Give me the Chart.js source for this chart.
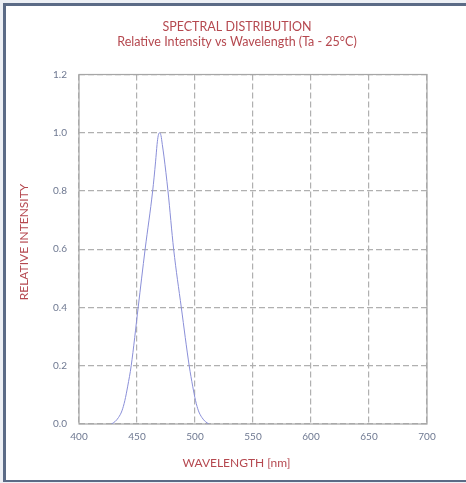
<!DOCTYPE html>
<html>
<head>
<meta charset="utf-8">
<script src="https://cdn.jsdelivr.net/npm/chart.js@4.4.0/dist/chart.umd.min.js"></script>
<style>
  html, body { margin:0; padding:0; background:#edf0f5; width:466px; height:483px; overflow:hidden; }
  #frame { position:absolute; left:3px; top:3px; width:480px; height:474px;
           border-left:3px solid #5b6b86; border-top:3px solid #5b6b86; border-bottom:2px solid #5b6b86;
           background:#ffffff; }
  #wrap { position:absolute; left:6px; top:6px; width:460px; height:474px; }
</style>
</head>
<body>
<div id="frame"></div>
<div id="wrap"><canvas id="c" width="460" height="474"></canvas></div>
<script>
const titleLines = ['SPECTRAL DISTRIBUTION', 'Relative Intensity vs Wavelength (Ta - 25°C)'];
const xTitle = 'WAVELENGTH [nm]';
const yTitle = 'RELATIVE INTENSITY';
const wavelengths = [428, 431, 434, 437, 439.5, 442, 445, 451, 457, 463.5, 466, 467.3, 468.3, 469.5, 470.7, 471.8, 473.2, 476.7, 481.6, 488.2, 495, 498, 500.5, 503, 506, 509, 512];
const intensity   = [0, 0.008, 0.022, 0.045, 0.08, 0.13, 0.2, 0.4, 0.6, 0.8, 0.9, 0.96, 0.99, 1.0, 0.99, 0.96, 0.92, 0.8, 0.6, 0.4, 0.2, 0.13, 0.08, 0.045, 0.022, 0.008, 0];
const xTicks = [400, 450, 500, 550, 600, 650, 700];
const yTicks = [0.0, 0.2, 0.4, 0.6, 0.8, 1.0, 1.2];

const red = '#b5484f';
const tickColor = '#6e7891';
const gridColor = '#b0b0b0';

const frameRect = {
  id: 'frameRect',
  afterLayout(chart) {
    const t = chart.titleBlock;
    if (t) { t.left += 17; t.right += 17; }
  },
  beforeDatasetsDraw(chart) {
    const {ctx, chartArea:a} = chart;
    ctx.save();
    ctx.setLineDash([]);
    ctx.strokeStyle = '#a6a6a6';
    ctx.lineWidth = 1.2;
    ctx.strokeRect(a.left, a.top, a.right - a.left, a.bottom - a.top);
    ctx.restore();
  },
  afterDraw(chart) {
    const {ctx} = chart;
    ctx.save();
    ctx.fillStyle = red;
    ctx.font = '12px Lato';
    ctx.textAlign = 'center';
    ctx.textBaseline = 'middle';
    ctx.fillText(xTitle, 230.5, 457);
    ctx.translate(18, 236);
    ctx.rotate(-Math.PI / 2);
    ctx.fillText(yTitle, 0, 0);
    ctx.restore();
  }
};

new Chart(document.getElementById('c'), {
  type: 'line',
  data: {
    datasets: [{
      data: wavelengths.map((w, i) => ({x: w, y: intensity[i]})),
      borderColor: '#8a8fd8',
      borderWidth: 1,
      pointRadius: 0,
      fill: false,
      cubicInterpolationMode: 'monotone'
    }]
  },
  options: {
    responsive: false,
    animation: false,
    devicePixelRatio: 1,
    layout: { padding: { left: 7, right: 39, top: 0, bottom: 6 } },
    plugins: {
      legend: { display: false },
      tooltip: { enabled: false },
      title: {
        display: true,
        text: titleLines,
        color: red,
        font: { family: 'Lato', size: 12.5, weight: 'normal', lineHeight: 1.22 },
        padding: { top: 13, bottom: 25 }
      }
    },
    scales: {
      x: {
        type: 'linear',
        min: 400, max: 700,
        afterBuildTicks: s => { s.ticks = xTicks.map(v => ({value: v})); },
        afterFit: s => { s.height = 50; },
        ticks: { color: tickColor, font: { family: 'Lato', size: 10 }, padding: 7 },
        grid: { color: gridColor, lineWidth: 1.2, drawTicks: false },
        border: { display: false, dash: [6, 3] },
        title: { display: false, text: xTitle }
      },
      y: {
        min: 0, max: 1.2,
        afterBuildTicks: s => { s.ticks = yTicks.map(v => ({value: v})); },
        afterFit: s => { s.width = 66; },
        ticks: { color: tickColor, font: { family: 'Lato', size: 10 }, padding: 12,
                 callback: v => Number(v).toFixed(1) },
        grid: { color: gridColor, lineWidth: 1.2, drawTicks: false },
        border: { display: false, dash: [6, 3] },
        title: { display: false, text: yTitle }
      }
    }
  },
  plugins: [frameRect]
});
</script>
</body>
</html>
